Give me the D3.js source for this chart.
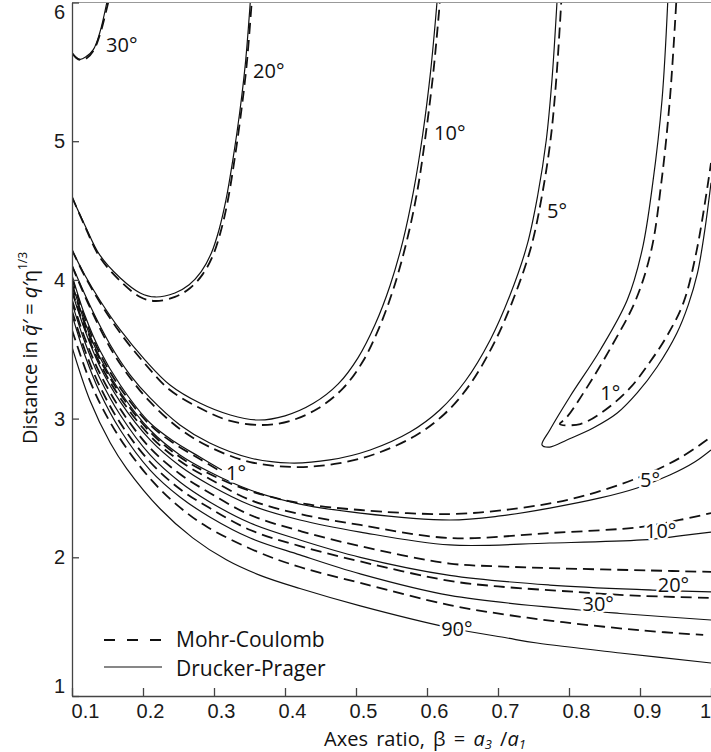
<!DOCTYPE html>
<html lang="en">
<head>
<meta charset="utf-8">
<title>Distance vs axes ratio</title>
<script src="https://d3js.org/d3.v7.min.js"></script>
<style>
  body { margin: 0; background: #fff; }
  svg { font-family: "Open Sans", sans-serif; display: block; }
  .tick text { font-size: 20px; fill: #1a1a1a; }
  .lbl { font-size: 20px; fill: #111; stroke: #fff; stroke-width: 5px; paint-order: stroke; stroke-linejoin: round; }
</style>
</head>
<body>
<svg id="chart"></svg>
<script>
// ---- data: [beta, q'] pairs ----
// upper (U-shaped) branches
const dp30U = [[0.100,5.636],[0.111,5.590],[0.120,5.610],[0.130,5.660],[0.139,5.780],[0.149,6.000]];
const mc30U = [[0.100,5.636],[0.106,5.600],[0.113,5.585],[0.121,5.600],[0.131,5.660],[0.140,5.780],[0.151,6.000]];
const dp20U = [[0.100,4.598],[0.118,4.396],[0.139,4.180],[0.168,4.014],[0.196,3.906],[0.217,3.877],[0.245,3.906],[0.265,3.965],[0.282,4.060],[0.296,4.190],[0.307,4.360],[0.317,4.580],[0.327,4.880],[0.336,5.200],[0.344,5.550],[0.351,5.996]];
const mc20U = [[0.100,4.598],[0.118,4.389],[0.139,4.165],[0.168,3.992],[0.196,3.877],[0.217,3.848],[0.245,3.877],[0.266,3.940],[0.284,4.040],[0.298,4.170],[0.309,4.340],[0.319,4.560],[0.329,4.870],[0.338,5.200],[0.346,5.550],[0.353,5.996]];
const dp10U = [[0.100,4.216],[0.118,4.035],[0.139,3.855],[0.168,3.639],[0.203,3.422],[0.238,3.242],[0.280,3.112],[0.323,3.026],[0.362,2.990],[0.400,3.020],[0.440,3.110],[0.475,3.250],[0.503,3.440],[0.527,3.680],[0.548,3.960],[0.566,4.280],[0.581,4.640],[0.594,5.050],[0.605,5.500],[0.614,5.996]];
const mc10U = [[0.100,4.216],[0.118,4.028],[0.139,3.841],[0.168,3.617],[0.203,3.394],[0.238,3.206],[0.280,3.076],[0.323,2.983],[0.368,2.954],[0.407,2.983],[0.447,3.075],[0.482,3.220],[0.510,3.415],[0.533,3.660],[0.553,3.940],[0.571,4.270],[0.586,4.630],[0.598,5.040],[0.609,5.500],[0.618,5.996]];
const dp5U = [[0.100,4.107],[0.125,3.819],[0.154,3.531],[0.182,3.314],[0.210,3.149],[0.252,2.954],[0.294,2.824],[0.351,2.716],[0.407,2.680],[0.463,2.702],[0.520,2.774],[0.576,2.903],[0.618,3.062],[0.654,3.271],[0.689,3.567],[0.717,3.891],[0.741,4.252],[0.756,4.612],[0.768,5.009],[0.776,5.441],[0.783,5.996]];
const mc5U = [[0.100,4.100],[0.125,3.805],[0.154,3.509],[0.182,3.293],[0.210,3.120],[0.252,2.925],[0.294,2.795],[0.351,2.687],[0.414,2.651],[0.470,2.673],[0.527,2.745],[0.583,2.875],[0.625,3.035],[0.661,3.250],[0.695,3.550],[0.723,3.880],[0.747,4.245],[0.762,4.610],[0.774,5.009],[0.782,5.441],[0.789,5.996]];
const dp1U = [[0.939,5.996],[0.931,5.297],[0.918,4.699],[0.903,4.216],[0.882,3.855],[0.844,3.495],[0.801,3.156],[0.773,2.918],[0.762,2.810],[0.773,2.795],[0.797,2.846],[0.834,2.932],[0.868,3.040],[0.896,3.185],[0.924,3.372],[0.952,3.617],[0.968,3.820],[0.981,4.050],[0.991,4.350],[1.000,4.700]];
const mc1U = [[0.951,5.996],[0.942,5.297],[0.930,4.699],[0.916,4.216],[0.894,3.855],[0.861,3.531],[0.823,3.206],[0.796,3.004],[0.787,2.961],[0.816,2.961],[0.851,3.062],[0.886,3.221],[0.914,3.408],[0.938,3.596],[0.961,3.833],[0.980,4.216],[1.000,4.843]];

// lower branches
const dp1L = [[0.100,4.035],[0.118,3.747],[0.139,3.495],[0.168,3.242],[0.210,2.968],[0.245,2.831],[0.280,2.723],[0.311,2.629]];
const mc1L = [[0.100,4.014],[0.118,3.725],[0.139,3.473],[0.168,3.221],[0.210,2.954],[0.245,2.817],[0.280,2.709],[0.306,2.629]];
const dp5L = [[0.100,3.978],[0.118,3.696],[0.139,3.444],[0.168,3.192],[0.210,2.918],[0.252,2.738],[0.294,2.615],[0.351,2.485],[0.421,2.384],[0.506,2.319],[0.632,2.269],[0.703,2.298],[0.773,2.355],[0.844,2.428],[0.896,2.500],[0.942,2.593],[0.977,2.687],[1.000,2.774]];
const mc5L = [[0.100,3.963],[0.118,3.682],[0.139,3.430],[0.168,3.177],[0.210,2.903],[0.252,2.723],[0.294,2.601],[0.351,2.478],[0.421,2.391],[0.506,2.341],[0.632,2.312],[0.731,2.355],[0.815,2.435],[0.900,2.579],[0.956,2.716],[1.000,2.867]];
const dp10L = [[0.100,3.913],[0.118,3.639],[0.139,3.379],[0.168,3.120],[0.210,2.846],[0.252,2.658],[0.294,2.521],[0.351,2.377],[0.421,2.269],[0.506,2.182],[0.632,2.089],[0.773,2.103],[0.903,2.125],[0.956,2.154],[1.000,2.182]];
const mc10L = [[0.100,3.927],[0.118,3.653],[0.139,3.401],[0.168,3.149],[0.210,2.875],[0.252,2.694],[0.294,2.565],[0.351,2.413],[0.421,2.312],[0.506,2.233],[0.632,2.139],[0.773,2.175],[0.900,2.218],[0.956,2.269],[1.000,2.319]];
const dp20L = [[0.100,3.833],[0.118,3.552],[0.139,3.293],[0.168,3.026],[0.210,2.738],[0.252,2.543],[0.294,2.399],[0.351,2.247],[0.421,2.125],[0.506,2.000],[0.632,1.870],[0.773,1.800],[0.918,1.764],[1.000,1.750]];
const mc20L = [[0.100,3.855],[0.118,3.581],[0.139,3.329],[0.168,3.069],[0.210,2.788],[0.252,2.601],[0.294,2.464],[0.351,2.305],[0.421,2.190],[0.506,2.080],[0.632,1.955],[0.700,1.935],[0.773,1.922],[0.914,1.905],[1.000,1.895]];
const dp30L = [[0.100,3.747],[0.118,3.459],[0.139,3.192],[0.168,2.918],[0.210,2.629],[0.252,2.435],[0.294,2.291],[0.351,2.139],[0.421,2.017],[0.506,1.880],[0.632,1.725],[0.815,1.620],[0.872,1.595],[1.000,1.548]];
const mc30L = [[0.100,3.776],[0.118,3.495],[0.139,3.235],[0.168,2.968],[0.210,2.687],[0.252,2.492],[0.294,2.355],[0.351,2.197],[0.421,2.081],[0.506,1.970],[0.632,1.830],[0.700,1.790],[0.811,1.750],[0.886,1.725],[1.000,1.707]];
const dp90L = [[0.100,3.516],[0.125,3.134],[0.154,2.824],[0.177,2.640],[0.224,2.350],[0.270,2.140],[0.318,1.980],[0.365,1.870],[0.421,1.775],[0.506,1.650],[0.632,1.492],[0.713,1.418],[0.755,1.382],[0.872,1.310],[1.000,1.238]];
const mc90L = [[0.100,3.639],[0.123,3.300],[0.144,3.065],[0.175,2.800],[0.214,2.545],[0.252,2.360],[0.290,2.220],[0.361,2.040],[0.421,1.930],[0.506,1.815],[0.632,1.655],[0.713,1.585],[0.792,1.532],[0.900,1.474],[0.989,1.440]];

// curve labels: [text, beta, q'] (left/baseline of text)
const labels = [
  ["30°", 0.148, 5.643], ["20°", 0.355, 5.456], ["10°", 0.610, 5.009], ["5°", 0.769, 4.446],
  ["1°", 0.844, 3.134], ["1°", 0.317, 2.557], ["5°", 0.900, 2.51], ["10°", 0.907, 2.14],
  ["20°", 0.925, 1.75], ["30°", 0.819, 1.61], ["90°", 0.620, 1.43]
];
const xTicks = [0.1, 0.2, 0.3, 0.4, 0.5, 0.6, 0.7, 0.8, 0.9, 1.0];
const yTicks = [1, 2, 3, 4, 5, 6];

const solidSet = [dp30U, dp20U, dp10U, dp5U, dp1U, dp1L, dp5L, dp10L, dp20L, dp30L, dp90L];
const dashSet = [mc30U, mc20U, mc10U, mc5U, mc1U, mc1L, mc5L, mc10L, mc20L, mc30L, mc90L];

// ---- layout ----
const W = 711, H = 752;
const pl = { left: 72, right: 711, top: 2.5, bottom: 696 };

const svg = d3.select("#chart").attr("width", W).attr("height", H);

const x = d3.scaleLinear().domain([0.1, 1.0]).range([pl.left, pl.right]);
const y = d3.scaleLinear().domain([1, 6]).range([pl.bottom, pl.top]);

svg.append("clipPath").attr("id", "plot")
  .append("rect").attr("x", pl.left).attr("y", pl.top)
  .attr("width", pl.right - pl.left).attr("height", pl.bottom - pl.top);

const line = d3.line().x(d => x(d[0])).y(d => y(d[1])).curve(d3.curveCatmullRom.alpha(0.5));

const g = svg.append("g").attr("clip-path", "url(#plot)");

g.selectAll("path.dp").data(solidSet).join("path")
  .attr("class", "dp")
  .attr("d", line)
  .attr("fill", "none").attr("stroke", "#111").attr("stroke-width", 1.2);

g.selectAll("path.mc").data(dashSet).join("path")
  .attr("class", "mc")
  .attr("d", line)
  .attr("fill", "none").attr("stroke", "#111").attr("stroke-width", 1.8)
  .attr("stroke-dasharray", "11,6");

// curve labels with white halo so the curves break around them
svg.selectAll("text.lbl").data(labels).join("text")
  .attr("class", "lbl")
  .attr("x", d => x(d[1])).attr("y", d => y(d[2]))
  .text(d => d[0]);

// top frame line
svg.append("line").attr("x1", pl.left).attr("x2", pl.right).attr("y1", pl.top).attr("y2", pl.top)
  .attr("stroke", "#999").attr("stroke-width", 1.2);

// axes
const xAxis = svg.append("g").attr("transform", `translate(0,${pl.bottom})`)
  .call(d3.axisBottom(x).tickValues(xTicks).tickFormat(d => d === 1 ? "1" : d3.format(".1f")(d))
    .tickSizeInner(-8).tickSizeOuter(0).tickPadding(8));
xAxis.selectAll("text").attr("dx", 7);
xAxis.selectAll(".tick").filter(d => d === 0.1).select("text").attr("dx", 13);
xAxis.selectAll(".tick").filter(d => d === 1).select("text").attr("dx", -6);

const yAxis = svg.append("g").attr("transform", `translate(${pl.left},0)`)
  .call(d3.axisLeft(y).tickValues(yTicks).tickFormat(d3.format("d"))
    .tickSizeInner(-7).tickSizeOuter(0).tickPadding(7));
yAxis.selectAll(".tick").filter(d => d === 6).select("text").attr("dy", "0.8em");
yAxis.selectAll(".tick").filter(d => d === 1).select("text").attr("dy", "-0.2em");

svg.selectAll(".domain, .tick line").attr("stroke", "#444").attr("stroke-width", 1.3);

// axis titles
const xt = svg.append("text").attr("x", 425).attr("y", 746).attr("text-anchor", "middle")
  .attr("font-size", 20).attr("word-spacing", 3).attr("fill", "#111");
xt.append("tspan").text("Axes ratio,  β = ");
xt.append("tspan").attr("font-style", "italic").text("a");
xt.append("tspan").attr("font-size", 13).attr("dy", 3).attr("font-style", "italic").text("3");
xt.append("tspan").attr("dy", -3).text(" /");
xt.append("tspan").attr("font-style", "italic").text("a");
xt.append("tspan").attr("font-size", 13).attr("dy", 3).attr("font-style", "italic").text("1");

const yt = svg.append("text").attr("transform", "translate(37,348) rotate(-90)")
  .attr("text-anchor", "middle").attr("font-size", 20).attr("fill", "#111");
yt.append("tspan").text("Distance in ");
yt.append("tspan").attr("font-style", "italic").text("q\u0304\u2032");
yt.append("tspan").text(" = ");
yt.append("tspan").attr("font-style", "italic").text("q\u2032");
yt.append("tspan").text("η");
yt.append("tspan").attr("font-size", 12).attr("dy", -10).text("1/3");

// legend
const leg = svg.append("g");
leg.append("line").attr("x1", 104).attr("x2", 162).attr("y1", 640).attr("y2", 640)
  .attr("stroke", "#111").attr("stroke-width", 1.8).attr("stroke-dasharray", "11,12");
leg.append("line").attr("x1", 104).attr("x2", 162).attr("y1", 667).attr("y2", 667)
  .attr("stroke", "#111").attr("stroke-width", 1.2);
leg.append("text").attr("x", 176).attr("y", 647).attr("font-size", 21).attr("fill", "#111").text("Mohr-Coulomb");
leg.append("text").attr("x", 176).attr("y", 676).attr("font-size", 21).attr("fill", "#111").text("Drucker-Prager");
</script>
</body>
</html>
